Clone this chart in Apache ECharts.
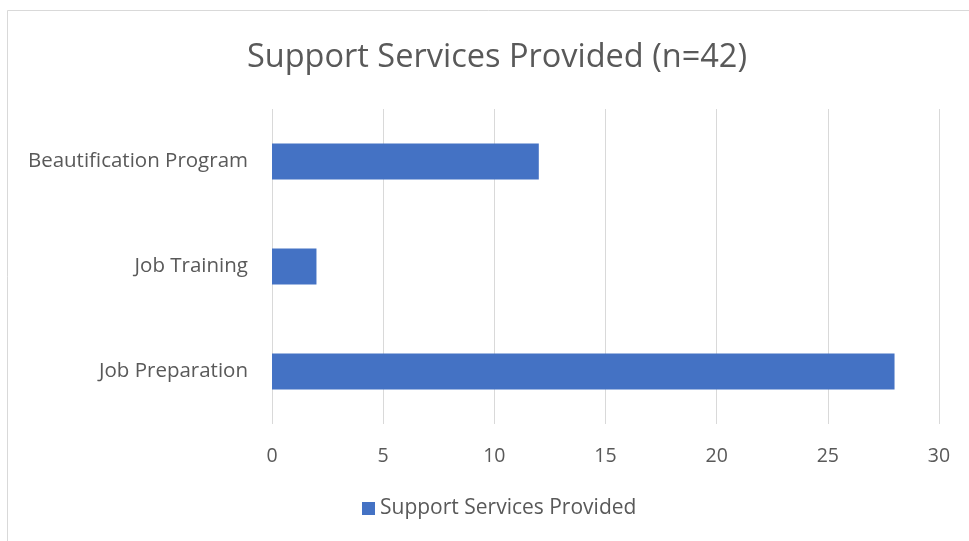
<!DOCTYPE html>
<html>
<head>
<meta charset="utf-8">
<script src="https://cdn.jsdelivr.net/npm/echarts@6/dist/echarts.min.js"></script>
<style>
  html, body { margin: 0; padding: 0; background: #fff; }
  #chart { width: 969px; height: 541px; }
</style>
</head>
<body>
<div id="chart"></div>
<script>
// Categories listed bottom-to-top for the horizontal bar axis
const categories = ['Job Preparation', 'Job Training', 'Beautification Program'];
const serviceCounts = [28, 2, 12];
const seriesName = 'Support Services Provided';
const chartTitle = 'Support Services Provided (n=42)';
const valueTicks = [0, 5, 10, 15, 20, 25, 30];

const textColor = '#595959';
const fontFamily = '"Open Sans", "Noto Sans", sans-serif';

const chart = echarts.init(document.getElementById('chart'), null, { renderer: 'canvas' });

chart.setOption({
  animation: false,
  backgroundColor: '#ffffff',
  graphic: [{
    type: 'rect',
    shape: { x: 7.5, y: 10.5, width: 1200, height: 1200 },
    style: { fill: 'none', stroke: '#d9d9d9', lineWidth: 1 },
    silent: true
  }],
  title: {
    text: chartTitle,
    left: 492,
    textAlign: 'center',
    top: 36,
    textStyle: { color: textColor, fontSize: 32.5, fontWeight: 'normal', fontFamily: fontFamily }
  },
  legend: {
    data: [seriesName],
    bottom: 17,
    left: 357,
    icon: 'rect',
    itemWidth: 13,
    itemHeight: 13,
    itemGap: 6,
    textStyle: { color: textColor, fontSize: 21, fontFamily: fontFamily }
  },
  grid: { left: 272, right: 30, top: 109, height: 315, containLabel: false },
  xAxis: {
    type: 'value',
    min: valueTicks[0],
    max: valueTicks[valueTicks.length - 1],
    interval: valueTicks[1] - valueTicks[0],
    axisLine: { show: false },
    axisTick: { show: false },
    splitLine: { show: true, lineStyle: { color: '#d9d9d9', width: 1 } },
    axisLabel: { color: textColor, fontSize: 19.5, fontFamily: fontFamily, margin: 22 }
  },
  yAxis: {
    type: 'category',
    data: categories,
    axisLine: { show: false },
    axisTick: { show: false },
    axisLabel: { color: textColor, fontSize: 20.5, fontFamily: fontFamily, margin: 24 }
  },
  series: [{
    name: seriesName,
    type: 'bar',
    data: serviceCounts,
    barWidth: 36,
    itemStyle: { color: '#4472c4' }
  }]
});
</script>
</body>
</html>
